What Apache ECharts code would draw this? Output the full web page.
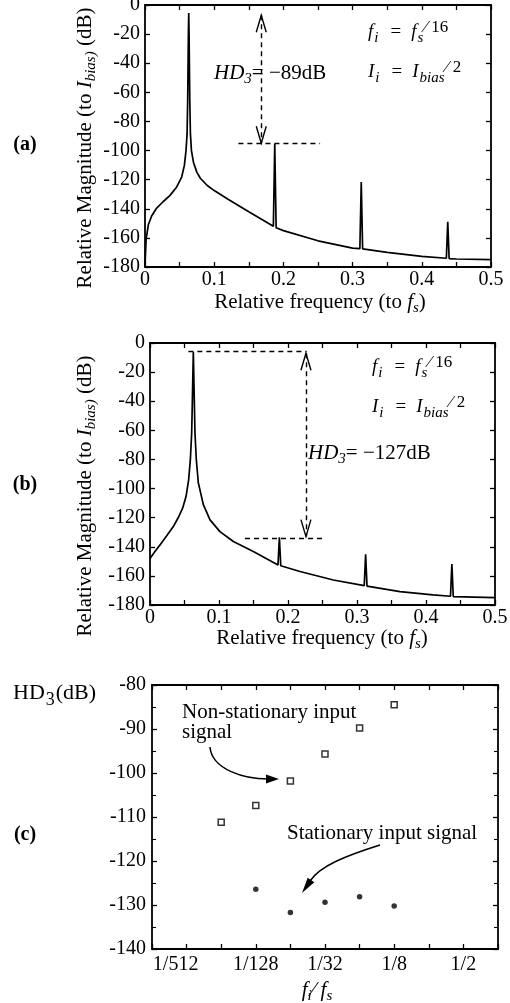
<!DOCTYPE html>
<html><head><meta charset="utf-8">
<script src="https://cdn.jsdelivr.net/npm/echarts@6/dist/echarts.min.js"></script>
<style>html,body{margin:0;padding:0;background:#fff}#c{width:510px;height:1003px}</style>
</head><body><div id="c"></div>
<script>
// ---------- data ----------
// panel (a): spectrum, non-stationary input
const freqA = [0, 0.0008, 0.0016, 0.0048, 0.0096, 0.0169, 0.0265, 0.0362, 0.0458, 0.053, 0.0569, 0.0593, 0.0608, 0.0617, 0.0627, 0.0632,
  0.0637, 0.0647, 0.0656, 0.0671, 0.07, 0.075, 0.08, 0.09, 0.1, 0.12, 0.15, 0.1855, 0.1875, 0.1895, 0.2, 0.25, 0.3, 0.3105, 0.3125, 0.3145,
  0.35, 0.4, 0.4355, 0.4375, 0.4395, 0.45, 0.5];
const magA = [-180, -170, -161, -151, -145, -139.5, -135, -130.8, -125, -118.2, -110.2, -99.9, -88.4, -65.5, -19.7, -5.5,
  -20, -65, -88, -100, -108, -115, -119, -124, -127.5, -133.5, -142, -152, -95.3, -153, -155, -162, -167, -167.4, -121.6, -167.6,
  -170, -172.7, -174, -149, -174.2, -174.5, -175];
// panel (b): spectrum, stationary input
const freqB = [0, 0.0072, 0.0145, 0.0242, 0.0338, 0.041, 0.0473, 0.0522, 0.056, 0.0585, 0.0604, 0.0618, 0.0628, 0.0638, 0.0652, 0.0671,
  0.07, 0.0773, 0.087, 0.1014, 0.1208, 0.1498, 0.1855, 0.1875, 0.1895, 0.2174, 0.2657, 0.3105, 0.3125, 0.3145, 0.3623, 0.41, 0.4355,
  0.4375, 0.4395, 0.5];
const magB = [-148, -143.3, -138.7, -132.5, -126.1, -119.9, -113.5, -105.5, -94, -80, -62, -30, -6, -30, -62, -80,
  -96, -111, -121.5, -129.6, -136.4, -143.3, -152.5, -133.5, -153, -157, -162.8, -166.7, -145.2, -167, -170.8, -173, -174,
  -151.8, -174.2, -175];
// HD3 annotation guides: [x1, x2, y] for levels, [x, yTop, yBottom] for arrows
const hdLevelA = [0.135, 0.253, -95];
const hdArrowA = [0.168, -7, -95];
const hdTopB = [0.0556, 0.227, -5.7];
const hdLevelB = [0.1377, 0.2536, -134];
const hdArrowB = [0.226, -7, -133];
// panel (c): HD3 vs fi/fs
const fiNonStat = [1/256, 1/128, 1/64, 1/32, 1/16, 1/8];
const hdNonStat = [-111.2, -107.4, -101.8, -95.7, -89.8, -84.5];
const fiStat = [1/128, 1/64, 1/32, 1/16, 1/8];
const hdStat = [-126.4, -131.7, -129.4, -128.1, -130.2];
const xTickExpC = [-9, -7, -5, -3, -1];
const xTickLabelsC = ['1/512', '1/128', '1/32', '1/8', '1/2'];

// ---------- styling ----------
const FONT = 'Liberation Serif';
const FS = 21;      // names / annotations
const FT = 20;      // tick labels
const BLACK = '#000';
const axisLine = {show: true, onZero: false, lineStyle: {color: BLACK, width: 1.8}};
const tick = {show: true, inside: true, length: 5, lineStyle: {color: BLACK, width: 1.3}};
const labelBase = {fontFamily: FONT, fontSize: FT, color: BLACK};

function zip(xs, ys) { return xs.map((x, i) => [x, ys[i]]); }
function fmtFreq(v) {
  const k = Math.round(v * 20);
  if (k % 2 !== 0) return '';
  return k === 0 ? '0' : (k / 20).toFixed(1);
}
function freqAxis(grid, pos, show) {
  return {type: 'value', gridIndex: grid, position: pos, min: 0, max: 0.5, interval: 0.05,
    axisLine, axisTick: tick, splitLine: {show: false},
    axisLabel: show ? Object.assign({show: true, margin: 3, formatter: fmtFreq, showMinLabel: true, showMaxLabel: true}, labelBase) : {show: false}};
}
function magAxis(grid, pos, show) {
  return {type: 'value', gridIndex: grid, position: pos, min: -180, max: 0, interval: 20,
    axisLine, axisTick: tick, splitLine: {show: false},
    axisLabel: show ? Object.assign({show: true, margin: 5, showMinLabel: true, showMaxLabel: true}, labelBase) : {show: false}};
}
function ratioAxis(grid, pos, show) {
  return {type: 'log', logBase: 2, gridIndex: grid, position: pos, min: 1/1024, max: 1, interval: 1,
    axisLine, axisTick: tick, splitLine: {show: false}, minorTick: {show: false},
    axisLabel: show ? Object.assign({show: true, margin: 6, showMinLabel: true, showMaxLabel: true,
      formatter: v => {
        const e = Math.round(Math.log2(v));
        const i = xTickExpC.indexOf(e);
        if (i < 0) return '';
        return i === 0 ? '{l|' + xTickLabelsC[i] + '}' : xTickLabelsC[i];
      },
      rich: {l: {fontFamily: FONT, fontSize: FT, color: BLACK, padding: [0, 22, 0, 0]}}}, labelBase) : {show: false}};
}
function hdAxis(grid, pos, show) {
  return {type: 'value', gridIndex: grid, position: pos, min: -140, max: -80, interval: 10,
    axisLine, axisTick: tick, splitLine: {show: false},
    minorTick: {show: true, splitNumber: 2, length: 4, lineStyle: {color: BLACK, width: 1.1}},
    axisLabel: show ? Object.assign({show: true, margin: 6, showMinLabel: true, showMaxLabel: true}, labelBase) : {show: false}};
}

const guideStyle = {color: BLACK, type: [5, 4], width: 1.4};
function seg(x1, y1, x2, y2) {
  return [{coord: [x1, y1]}, {coord: [x2, y2]}];
}
function markLines(data) {
  return {silent: true, animation: false, symbol: ['none', 'none'], label: {show: false},
    lineStyle: guideStyle, emphasis: {disabled: true}, data};
}

// rich text helpers
const serif = (size, extra) => Object.assign({fontFamily: FONT, fontSize: size, fill: BLACK, color: BLACK}, extra || {});
const richMain = {
  i: serif(FS, {fontStyle: 'italic'}),
  s: serif(15, {fontStyle: 'italic', padding: [12, 0, 0, 0]}),
  n: serif(FS)
};
const richSmall = {
  i: serif(19, {fontStyle: 'italic'}),
  s: serif(15, {fontStyle: 'italic', padding: [13, 0, 0, 1]}),
  e: serif(19, {padding: [0, 10, 0, 12]}),
  u: serif(17, {padding: [0, 0, 8, 1]}),
  n: serif(19)
};
function txt(x, y, text, opts) {
  return Object.assign({type: 'text', x, y, silent: true,
    style: Object.assign({text, fontFamily: FONT, fontSize: FS, fill: BLACK, align: 'left', verticalAlign: 'middle', rich: richMain}, opts && opts.style || {})},
    opts && opts.el || {});
}

const graphics = [
  txt(25, 145, '(a)', {style: {align: 'center', fontWeight: 'bold', fontSize: 20}}),
  txt(25, 485, '(b)', {style: {align: 'center', fontWeight: 'bold', fontSize: 20}}),
  txt(25, 835, '(c)', {style: {align: 'center', fontWeight: 'bold', fontSize: 20}}),
  txt(85, 148, '{n|Relative Magnitude (to }{i|I}{s|bias)}{n| (dB)}', {style: {align: 'center'}, el: {rotation: Math.PI / 2}}),
  txt(85, 496, '{n|Relative Magnitude (to }{i|I}{s|bias)}{n| (dB)}', {style: {align: 'center'}, el: {rotation: Math.PI / 2}}),
  txt(320, 302, '{n|Relative frequency (to }{i|f}{s|s}{n|)}', {style: {align: 'center'}}),
  txt(322, 638, '{n|Relative frequency (to }{i|f}{s|s}{n|)}', {style: {align: 'center'}}),
  txt(214, 73, '{i|HD}{s|3}{n|= \u221289dB}'),
  txt(308, 453, '{i|HD}{s|3}{n|= \u2212127dB}'),
  txt(368, 32, '{i|f}{s|i}{e|=}{i|f}{s|s}{u|\u2044 16}', {style: {rich: richSmall}}),
  txt(368, 72, '{i|I}{s|i}{e|=}{i|I}{s|bias}{u|\u2044 2}', {style: {rich: richSmall}}),
  txt(372, 367, '{i|f}{s|i}{e|=}{i|f}{s|s}{u|\u2044 16}', {style: {rich: richSmall}}),
  txt(372, 407, '{i|I}{s|i}{e|=}{i|I}{s|bias}{u|\u2044 2}', {style: {rich: richSmall}}),
  txt(13, 693, '{n|HD}{d|3}{n|(dB)}', {style: {rich: {n: serif(22), d: serif(18, {padding: [15, 1, 0, 1]})}}}),
  txt(317, 990, '{i|f}{s|i}{i|\u2044 f}{s|s}', {style: {align: 'center'}}),
  txt(182, 712, 'Non-stationary input'),
  txt(182, 732, 'signal'),
  txt(287, 833, 'Stationary input signal'),
  {type: 'bezierCurve', silent: true, shape: {x1: 210, y1: 747, cpx1: 212, cpy1: 770, cpx2: 245, cpy2: 779, x2: 268, y2: 779},
    style: {stroke: BLACK, lineWidth: 1.5, fill: null}},
  {type: 'polygon', silent: true, shape: {points: [[279, 779], [266, 774.5], [266, 783.5]]}, style: {fill: BLACK}},
  {type: 'bezierCurve', silent: true, shape: {x1: 380, y1: 845, cpx1: 345, cpy1: 856, cpx2: 320, cpy2: 866, x2: 310, y2: 881},
    style: {stroke: BLACK, lineWidth: 1.5, fill: null}},
  {type: 'polygon', silent: true, shape: {points: [[302, 893], [314.3, 882.3], [307.7, 877.7]]}, style: {fill: BLACK}}
];

const option = {
  animation: false,
  backgroundColor: '#fff',
  grid: [
    {left: 145, top: 5, width: 346, height: 262, containLabel: false, outerBoundsMode: 'none'},
    {left: 150, top: 343, width: 345, height: 262, containLabel: false, outerBoundsMode: 'none'},
    {left: 152, top: 685, width: 346, height: 264, containLabel: false, outerBoundsMode: 'none'}
  ],
  xAxis: [
    freqAxis(0, 'bottom', true), freqAxis(0, 'top', false),
    freqAxis(1, 'bottom', true), freqAxis(1, 'top', false),
    ratioAxis(2, 'bottom', true), ratioAxis(2, 'top', false)
  ],
  yAxis: [
    magAxis(0, 'left', true), magAxis(0, 'right', false),
    magAxis(1, 'left', true), magAxis(1, 'right', false),
    hdAxis(2, 'left', true), hdAxis(2, 'right', false)
  ],
  series: [
    {type: 'line', xAxisIndex: 0, yAxisIndex: 0, data: zip(freqA, magA), showSymbol: false, symbol: 'none',
      lineStyle: {color: BLACK, width: 1.7}, silent: true,
      markLine: markLines([
        seg(hdLevelA[0], hdLevelA[2], hdLevelA[1], hdLevelA[2]),
        seg(hdArrowA[0], hdArrowA[1], hdArrowA[0], hdArrowA[2])
      ])},
    {type: 'line', xAxisIndex: 2, yAxisIndex: 2, data: zip(freqB, magB), showSymbol: false, symbol: 'none',
      lineStyle: {color: BLACK, width: 1.7}, silent: true,
      markLine: markLines([
        seg(hdTopB[0], hdTopB[2], hdTopB[1], hdTopB[2]),
        seg(hdLevelB[0], hdLevelB[2], hdLevelB[1], hdLevelB[2]),
        seg(hdArrowB[0], hdArrowB[1], hdArrowB[0], hdArrowB[2])
      ])},
    {type: 'scatter', xAxisIndex: 4, yAxisIndex: 4, data: zip(fiNonStat, hdNonStat), symbol: 'rect', symbolSize: 6,
      itemStyle: {color: '#fff', borderColor: BLACK, borderWidth: 1.5}, silent: true},
    {type: 'scatter', xAxisIndex: 4, yAxisIndex: 4, data: zip(fiStat, hdStat), symbol: 'circle', symbolSize: 5.5,
      itemStyle: {color: BLACK}, silent: true}
  ],
  graphic: graphics
};

const chart = echarts.init(document.getElementById('c'), null, {renderer: 'canvas'});
chart.setOption(option);

// open chevron arrowheads at the ends of the HD3 guides, placed through the chart's own coordinate conversion
function chevron(gridIndex, x, y, dir) {
  const p = chart.convertToPixel({gridIndex}, [x, y]);
  const h = 17 * dir, w = 5;
  return {type: 'polyline', silent: true, shape: {points: [[p[0] - w, p[1] + h], [p[0], p[1]], [p[0] + w, p[1] + h]]},
    style: {stroke: BLACK, lineWidth: 1.4, fill: null}};
}
chart.setOption({graphic: graphics.concat([
  chevron(0, hdArrowA[0], hdArrowA[1], 1), chevron(0, hdArrowA[0], hdArrowA[2], -1),
  chevron(1, hdArrowB[0], hdArrowB[1], 1), chevron(1, hdArrowB[0], hdArrowB[2], -1)
])}, {replaceMerge: ['graphic']});
</script>
</body></html>
